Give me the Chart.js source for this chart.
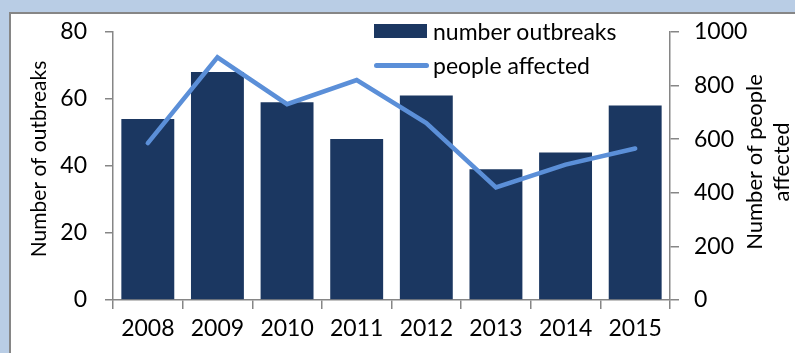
<!DOCTYPE html>
<html>
<head>
<meta charset="utf-8">
<script src="https://cdn.jsdelivr.net/npm/chart.js"></script>
<style>
  html, body { margin: 0; padding: 0; }
  body { width: 795px; height: 353px; background: #b9cde5; position: relative; overflow: hidden; font-family: Lato, sans-serif; }
  #panel { position: absolute; left: 9px; top: 12px; width: 820px; height: 400px; background: #fff; border: 2px solid #868686; }
  #chart { position: absolute; left: 0; top: 0; }
  .legend { position: absolute; left: 374px; font-size: 23px; line-height: 28px; color: #000; display: flex; align-items: center; }
  .legend .swatch { width: 53px; height: 14px; margin-right: 6px; }
  .legend .line { width: 55px; height: 5px; border-radius: 3px; margin-right: 4px; }
</style>
</head>
<body>
<div id="panel"></div>
<canvas id="chart" width="795" height="353"></canvas>
<div class="legend" style="top:17px"><div class="swatch" style="background:#1b3761"></div>number outbreaks</div>
<div class="legend" style="top:51px"><div class="line" style="background:#5b8fd8"></div>people affected</div>
<script>
const years = ['2008', '2009', '2010', '2011', '2012', '2013', '2014', '2015'];
const outbreaks = [54, 68, 59, 48, 61, 39, 44, 58];
const peopleAffected = [585, 905, 730, 820, 660, 420, 505, 565];
const leftTicks = [0, 20, 40, 60, 80];
const rightTicks = [0, 200, 400, 600, 800, 1000];

const barColor = '#1b3761';
const lineColor = '#5b8fd8';
const axisColor = '#868686';
const fontFamily = 'Lato, sans-serif';

// axis titles drawn by hand so the right one reads bottom-to-top like Excel
const axisTitles = {
    id: 'axisTitles',
    afterDraw(chart) {
        const c = chart.ctx;
        c.save();
        c.fillStyle = '#000';
        c.font = '21px ' + fontFamily;
        c.textAlign = 'center';
        c.textBaseline = 'middle';
        c.translate(39, 159);
        c.rotate(-Math.PI / 2);
        c.fillText('Number of outbreaks', 0, 0);
        c.restore();

        c.save();
        c.fillStyle = '#000';
        c.font = '22px ' + fontFamily;
        c.textAlign = 'center';
        c.textBaseline = 'middle';
        c.translate(755, 162);
        c.rotate(-Math.PI / 2);
        c.fillText('Number of people', 0, 0);
        c.fillText('affected', 0, 27);
        c.restore();
    }
};

const tickFont = { family: fontFamily, size: 23 };

new Chart(document.getElementById('chart').getContext('2d'), {
    data: {
        labels: years,
        datasets: [
            {
                type: 'line',
                label: 'people affected',
                data: peopleAffected,
                yAxisID: 'y1',
                borderColor: lineColor,
                borderWidth: 4.5,
                pointRadius: 0,
                tension: 0,
                borderCapStyle: 'round',
                order: 0
            },
            {
                type: 'bar',
                label: 'number outbreaks',
                data: outbreaks,
                yAxisID: 'y',
                backgroundColor: barColor,
                barPercentage: 0.76,
                categoryPercentage: 1,
                order: 1
            }
        ]
    },
    options: {
        responsive: false,
        animation: false,
        layout: { padding: { top: 26, left: 0, right: 0, bottom: 0 } },
        plugins: {
            legend: { display: false },
            tooltip: { enabled: false }
        },
        scales: {
            x: {
                grid: { offset: true, drawOnChartArea: false, tickLength: 9, color: axisColor, lineWidth: 1.5 },
                border: { color: axisColor, width: 1.5 },
                ticks: { font: tickFont, color: '#000', padding: 6, maxRotation: 0 },
                afterFit: s => { s.height = 53; }
            },
            y: {
                position: 'left',
                min: 0,
                max: 80,
                afterBuildTicks: s => { s.ticks = leftTicks.map(v => ({ value: v })); },
                grid: { drawOnChartArea: false, tickLength: 8, color: axisColor, lineWidth: 1.5 },
                border: { color: axisColor, width: 1.5 },
                ticks: { font: tickFont, color: '#000', padding: 18, callback: v => String(v) },
                afterFit: s => { s.width = 113; }
            },
            y1: {
                position: 'right',
                min: 0,
                max: 1000,
                afterBuildTicks: s => { s.ticks = rightTicks.map(v => ({ value: v })); },
                grid: { drawOnChartArea: false, tickLength: 9, color: axisColor, lineWidth: 1.5 },
                border: { color: axisColor, width: 1.5 },
                ticks: { font: tickFont, color: '#000', padding: 15, callback: v => String(v) },
                afterFit: s => { s.width = 125; }
            }
        }
    },
    plugins: [axisTitles]
});
</script>
</body>
</html>
